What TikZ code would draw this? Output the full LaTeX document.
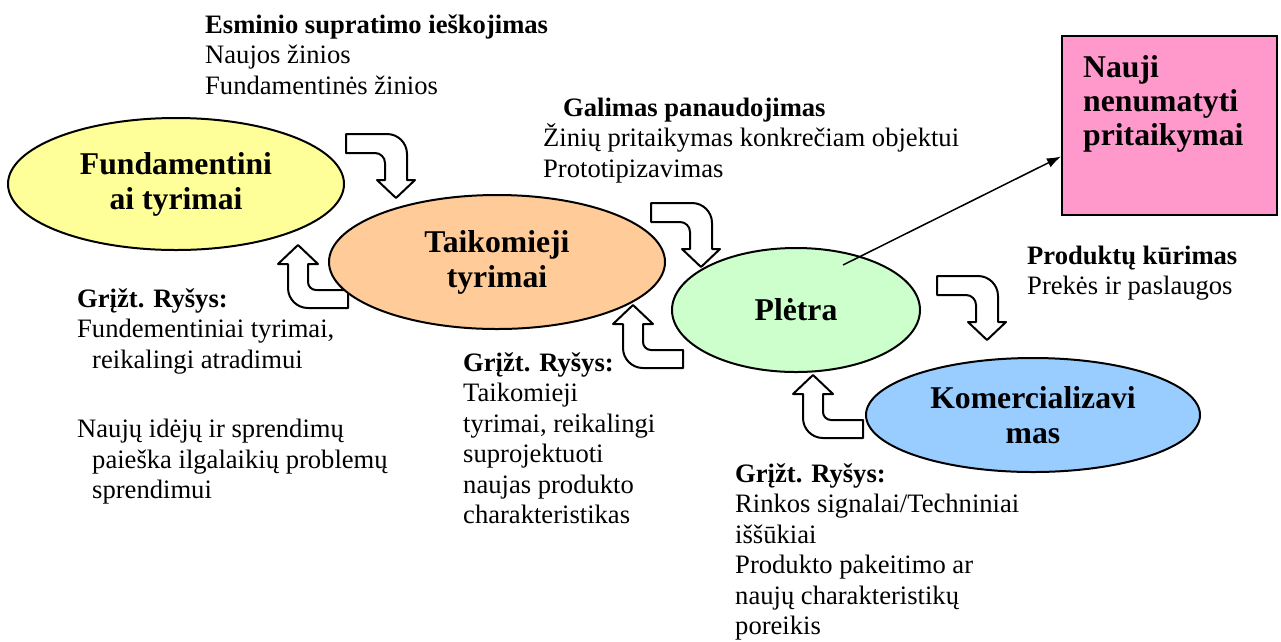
\documentclass[tikz,border=0pt]{standalone}
\usepackage{fontspec}
\setmainfont{Liberation Serif}
\usetikzlibrary{calc,arrows.meta,shapes.geometric}
\definecolor{fundyellow}{HTML}{FFFF99}
\definecolor{taikorange}{HTML}{FFCC99}
\definecolor{pletragreen}{HTML}{CCFFCC}
\definecolor{komblue}{HTML}{99CCFF}
\definecolor{naujipink}{HTML}{FF99CC}
\newcommand\notefont{\fontsize{26.6}{30.5}\selectfont}
\newcommand\stagefont{\fontsize{31.7}{35}\selectfont\bfseries}
\def\fwdarrow(#1,#2){\draw[turnarrow, shift={(#1,#2)}] (0,0) -- (41,0) arc (270:360:20) -- (61,46) -- (69,46) -- (50,64) -- (31,46) -- (39,46) -- (39,29) arc (0:-90:10) -- (0,19) -- cycle;}
\def\backarrow(#1,#2){\draw[turnarrow, shift={(#1,#2)}] (0,0) -- (20,19) -- (10,19) -- (10,37) arc (180:90:8) -- (50,45) -- (50,63) -- (10,63) arc (90:180:20) -- (-10,19) -- (-20,19) -- cycle;}
\tikzset{
	turnarrow/.style={draw=black, line width=2pt, fill=white, line join=round},
	stage/.style={ellipse, draw=black, line width=2pt, inner sep=0pt, align=center, font=\stagefont},
	note/.style={anchor=base west, inner sep=0pt, align=left, font=\notefont},
}

\begin{document}
\begin{tikzpicture}[x=1pt, y=-1pt]
		%%%%% START %%%%%
		\useasboundingbox (0,0) rectangle (1281,641);
		
		% turning arrows
		\fwdarrow(346,134)
		\fwdarrow(651,203)
		\fwdarrow(937,276)
		\backarrow(298,245)
		\backarrow(633,305)
		\backarrow(813,375)
		
		% stages
		\node[stage, fill=fundyellow, minimum width=336, minimum height=132] (fund) at (176,184) {Fundamentini\\ai tyrimai};
		\node[stage, fill=taikorange, minimum width=336, minimum height=134] (taik) at (497,262) {Taikomieji\\tyrimai};
		\node[stage, fill=pletragreen, minimum width=248, minimum height=124] (pletra) at (796,310) {Plėtra};
		\node[stage, fill=komblue, minimum width=334, minimum height=114] (kom) at (1033,415) {Komercializavi\\mas};
		
		\node[draw=black, line width=2pt, fill=naujipink, minimum width=215, minimum height=179] (nauji) at (1169.5,125.5) {};
		\node[anchor=base west, inner sep=0pt, align=left, font={\fontsize{31.7}{34}\selectfont\bfseries}] (naujitext) at (1083,145) {Nauji\\nenumatyti\\pritaikymai};
		
		\draw[line width=1.5pt, -{Latex[length=14pt,width=10pt]}] ($(pletra.center)+(47,-45)$) -- ($(nauji.west)+(0,31)$);
		
		% notes (placed by the baseline of their last line)
		\node[note] (esminis) at (205,94) {\textbf{Esminio supratimo ieškojimas}\\Naujos žinios\\Fundamentinės žinios};
		\node[note] (galimas) at (543,177) {\hspace*{20pt}\textbf{Galimas panaudojimas}\\Žinių pritaikymas konkrečiam objektui\\Prototipizavimas};
		\node[note] (produktai) at (1027,294.5) {\textbf{Produktų kūrimas}\\Prekės ir paslaugos};
		\node[note] (griztfund) at (77,498.5) {\textbf{Grįžt. Ryšys:}\\Fundementiniai tyrimai,\\\hspace*{15pt}reikalingi atradimui\\[39pt]Naujų idėjų ir sprendimų\\\hspace*{15pt}paieška ilgalaikių problemų\\\hspace*{15pt}sprendimui};
		\node[note] (grizttaik) at (463,523.5) {\textbf{Grįžt. Ryšys:}\\Taikomieji\\tyrimai, reikalingi\\suprojektuoti\\naujas produkto\\charakteristikas};
		\node[note] (grizkom) at (735,634.5) {\textbf{Grįžt. Ryšys:}\\Rinkos signalai/Techniniai\\iššūkiai\\Produkto pakeitimo ar\\naujų charakteristikų\\poreikis};
		%%%%% END %%%%%
	\end{tikzpicture}
\end{document}
